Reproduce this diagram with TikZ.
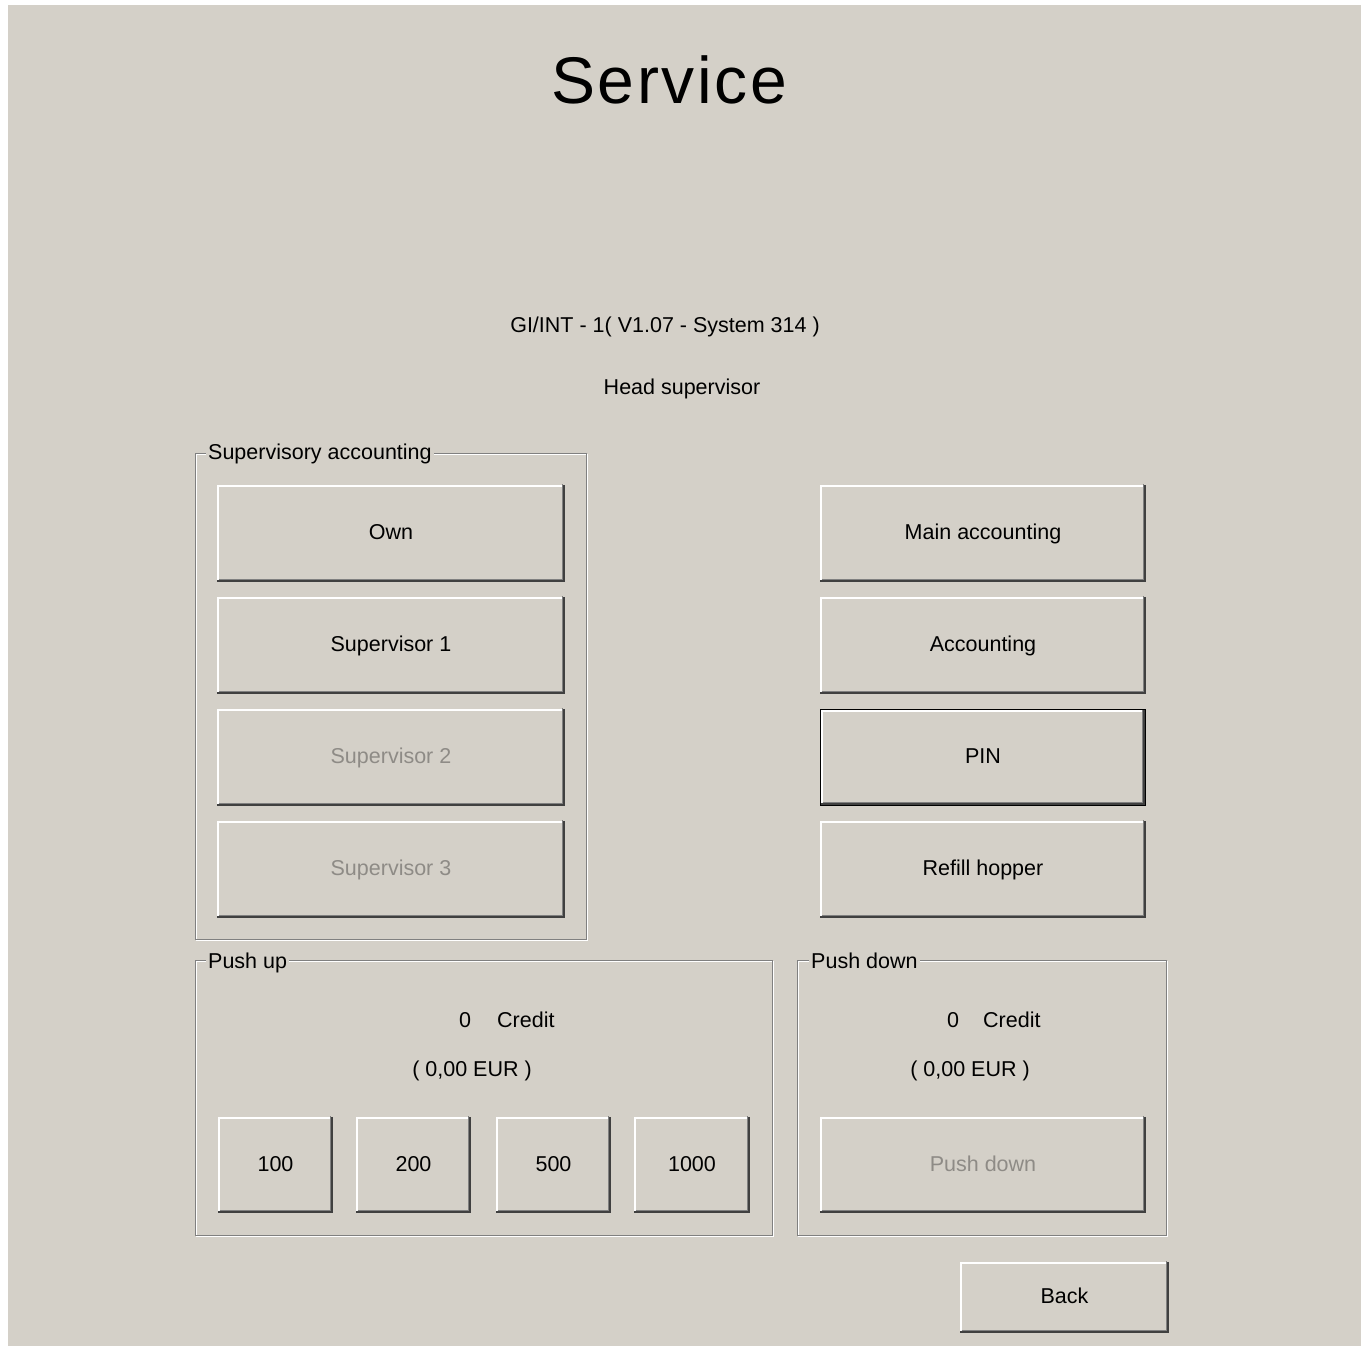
\documentclass[tikz,border=0pt]{standalone}
\usepackage{fontspec}
\setmainfont{Liberation Sans}
\newfontfamily\titlefont[LetterSpace=4]{Liberation Sans}
\definecolor{winbg}{HTML}{D4D0C8}
\definecolor{windark}{HTML}{404040}
\definecolor{winshadow}{HTML}{808080}
\definecolor{wingray}{HTML}{8E8B86}
\newcommand\uifont{\fontsize{21.5}{24}\selectfont}
\tikzset{
  btn/.style={rectangle, fill=winbg, draw=none, inner sep=0pt, outer sep=0pt,
    font=\uifont, text height=15.5pt, text depth=3pt, align=center},
  disabled/.style={text=wingray},
  lbl/.style={inner sep=0pt, font=\uifont, anchor=base},
  grouplbl/.style={fill=winbg, inner xsep=2pt, inner ysep=2pt, font=\uifont, anchor=base west},
  etchgray/.style={draw=winshadow, line width=1pt},
  etchwhite/.style={draw=white, line width=1pt},
}
\newcommand\bevel[1]{%
  \draw[white, line width=1.5pt] ([shift={(0.75pt,2pt)}]#1.south west) -- ([shift={(0.75pt,-0.75pt)}]#1.north west) -- ([shift={(-2pt,-0.75pt)}]#1.north east);
  \draw[windark, line width=1.75pt] ([shift={(0pt,0.875pt)}]#1.south west) -- ([shift={(-0.875pt,0.875pt)}]#1.south east) -- ([shift={(-0.875pt,0pt)}]#1.north east);
  \draw[winshadow, line width=1.5pt] ([shift={(1.5pt,2.5pt)}]#1.south west) -- ([shift={(-2.5pt,2.5pt)}]#1.south east) -- ([shift={(-2.5pt,1.5pt)}]#1.north east);
}
\begin{document}
\begin{tikzpicture}[x=1pt,y=-1pt]
\useasboundingbox (0,0) rectangle (1361,1346);
\fill[white] (0,0) rectangle (1361,1346);
\fill[winbg] (8,5) rectangle (1361,1346);

% title and header texts
\node[anchor=base, inner sep=0pt, font=\titlefont\fontsize{66}{76}\selectfont] (title) at (669,103) {Service};
\node[lbl] (version) at (665,332) {GI/INT - 1( V1.07 - System 314 )};
\node[lbl] (role) at (682,394) {Head supervisor};

% group frames (etched)
\draw[etchwhite] (196.5,454.5) rectangle (587.5,940.5);
\draw[etchgray] (195.5,453.5) rectangle (586.5,939.5);
\draw[etchwhite] (196.5,961.5) rectangle (773.5,1236.5);
\draw[etchgray] (195.5,960.5) rectangle (772.5,1235.5);
\draw[etchwhite] (798.5,961.5) rectangle (1167.5,1236.5);
\draw[etchgray] (797.5,960.5) rectangle (1166.5,1235.5);

\node[grouplbl] (gsup) at (206,459) {Supervisory accounting};
\node[grouplbl] (gup) at (206,968) {Push up};
\node[grouplbl] (gdown) at (809,968) {Push down};

% supervisory accounting buttons
\node[btn, minimum width=348pt, minimum height=97pt] (own) at (391,533.5) {Own};
\node[btn, minimum width=348pt, minimum height=97pt] (sup1) at (391,645.5) {Supervisor 1};
\node[btn, disabled, minimum width=348pt, minimum height=97pt] (sup2) at (391,757.5) {Supervisor 2};
\node[btn, disabled, minimum width=348pt, minimum height=97pt] (sup3) at (391,869.5) {Supervisor 3};
\bevel{own}\bevel{sup1}\bevel{sup2}\bevel{sup3}

% right column buttons
\node[btn, minimum width=326pt, minimum height=97pt] (main) at (983,533.5) {Main accounting};
\node[btn, minimum width=326pt, minimum height=97pt] (acc) at (983,645.5) {Accounting};
\node[btn, minimum width=324pt, minimum height=95pt] (pin) at (983,757.5) {PIN};
\node[btn, minimum width=326pt, minimum height=97pt] (refill) at (983,869.5) {Refill hopper};
\bevel{main}\bevel{acc}\bevel{pin}\bevel{refill}
\draw[black, line width=1pt] ([shift={(-0.5pt,-0.5pt)}]pin.south west) rectangle ([shift={(0.5pt,0.5pt)}]pin.north east);

% push up
\node[lbl] (upzero) at (465,1027) {0};
\node[lbl, anchor=base west] (upcredit) at (497,1027) {Credit};
\node[lbl] (upeur) at (472,1076) {( 0,00 EUR )};
\node[btn, minimum width=115pt, minimum height=96pt] (b100) at (275.5,1165) {100};
\node[btn, minimum width=115pt, minimum height=96pt] (b200) at (413.5,1165) {200};
\node[btn, minimum width=115pt, minimum height=96pt] (b500) at (553.5,1165) {500};
\node[btn, minimum width=116pt, minimum height=96pt] (b1000) at (692,1165) {1000};
\bevel{b100}\bevel{b200}\bevel{b500}\bevel{b1000}

% push down
\node[lbl] (downzero) at (953,1027) {0};
\node[lbl, anchor=base west] (downcredit) at (983,1027) {Credit};
\node[lbl] (downeur) at (970,1076) {( 0,00 EUR )};
\node[btn, disabled, minimum width=326pt, minimum height=96pt] (pushdown) at (983,1165) {Push down};
\bevel{pushdown}

% back
\node[btn, minimum width=209pt, minimum height=71pt] (back) at (1064.5,1297.5) {Back};
\bevel{back}
\end{tikzpicture}
\end{document}
